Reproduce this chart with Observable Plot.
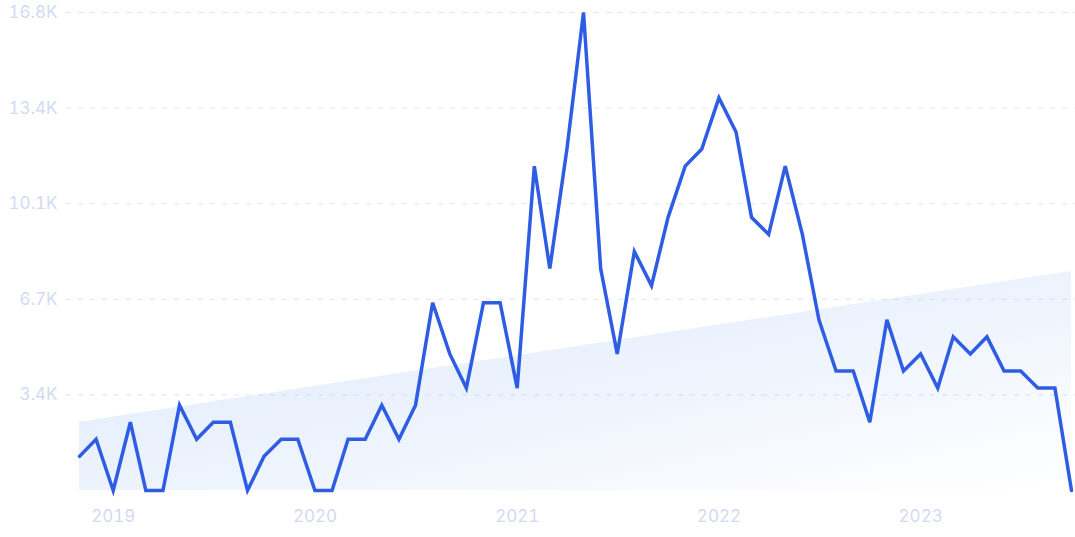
<!DOCTYPE html>
<html>
<head>
<meta charset="utf-8">
<script src="https://cdn.jsdelivr.net/npm/d3@7"></script>
<script src="https://cdn.jsdelivr.net/npm/@observablehq/plot@0.6"></script>
<style>
  html, body { margin: 0; padding: 0; background: #ffffff; }
  #chart { width: 1075px; height: 537px; }
</style>
</head>
<body>
<div id="chart"></div>
<script>
// Monthly series, Nov 2018 – Sep 2023
const startMonth = "2018-11-01";
const values = [
  1200, 1800, 0, 2400, 0, 0, 3000, 1800, 2400, 2400, 0, 1200,
  1800, 1800, 0, 0, 1800, 1800, 3000, 1800, 3000, 6600, 4800, 3600,
  6600, 6600, 3600, 11400, 7800, 12000, 16800, 7800, 4800, 8400, 7200, 9600,
  11400, 12000, 13800, 12600, 9600, 9000, 11400, 9000, 6000, 4200, 4200, 2400,
  6000, 4200, 4800, 3600, 5400, 4800, 5400, 4200, 4200, 3600, 3600, 0
];
// Trend band (start and end values)
const trendValues = [2400, 7700];
const yTicks = [3360, 6720, 10080, 13440, 16800];
const yTickLabels = ["3.4K", "6.7K", "10.1K", "13.4K", "16.8K"];
const xTickYears = ["2019", "2020", "2021", "2022", "2023"];

const start = new Date(startMonth + "T00:00:00Z");
const months = values.map((_, i) => d3.utcMonth.offset(start, i));
const series = values.map((v, i) => ({date: months[i], value: v}));
const trend = [
  {date: months[0], value: trendValues[0]},
  {date: months[months.length - 1], value: trendValues[1]}
];
const xTicks = xTickYears.map(y => new Date(y + "-01-01T00:00:00Z"));
const yLabel = new Map(yTicks.map((t, i) => [t, yTickLabels[i]]));

const chart = Plot.plot({
  width: 1075,
  height: 537,
  marginTop: 12,
  marginBottom: 47,
  marginLeft: 66,
  marginRight: 0,
  style: {fontFamily: "Inter, sans-serif", fontSize: "17px", background: "#ffffff"},
  x: {type: "utc", domain: [months[0], months[months.length - 1]], insetLeft: 13, insetRight: 4},
  y: {domain: [0, 16800]},
  marks: [
    Plot.areaY(trend, {x: "date", y1: 0, y2: "value", fill: "url(#trendGrad)", curve: "linear"}),
    Plot.ruleY(yTicks, {stroke: "#9fb8ee", strokeOpacity: 0.38, strokeWidth: 1, strokeDasharray: "5,7"}),
    Plot.axisY({ticks: yTicks, tickSize: 0, tickPadding: 9, tickFormat: d => yLabel.get(d), color: "#d2daf3", fontSize: 17, label: null}),
    Plot.axisX({ticks: xTicks, tickSize: 0, tickPadding: 19, tickFormat: d => String(d.getUTCFullYear()), color: "#d2daf3", fontSize: 17, label: null}),
    Plot.lineY(series, {x: "date", y: "value", stroke: "#2e5de4", strokeWidth: 3.5, strokeLinejoin: "miter", strokeMiterlimit: 4})
  ]
});

const ns = "http://www.w3.org/2000/svg";
const defs = document.createElementNS(ns, "defs");
defs.innerHTML = `<linearGradient id="trendGrad" x1="0" y1="0" x2="1" y2="1" gradientUnits="objectBoundingBox">
  <stop offset="0" stop-color="#dce9fb"/>
  <stop offset="0.55" stop-color="#eef4fd"/>
  <stop offset="1" stop-color="#ffffff"/>
</linearGradient>`;
chart.insertBefore(defs, chart.firstChild);
document.getElementById("chart").appendChild(chart);
</script>
</body>
</html>
